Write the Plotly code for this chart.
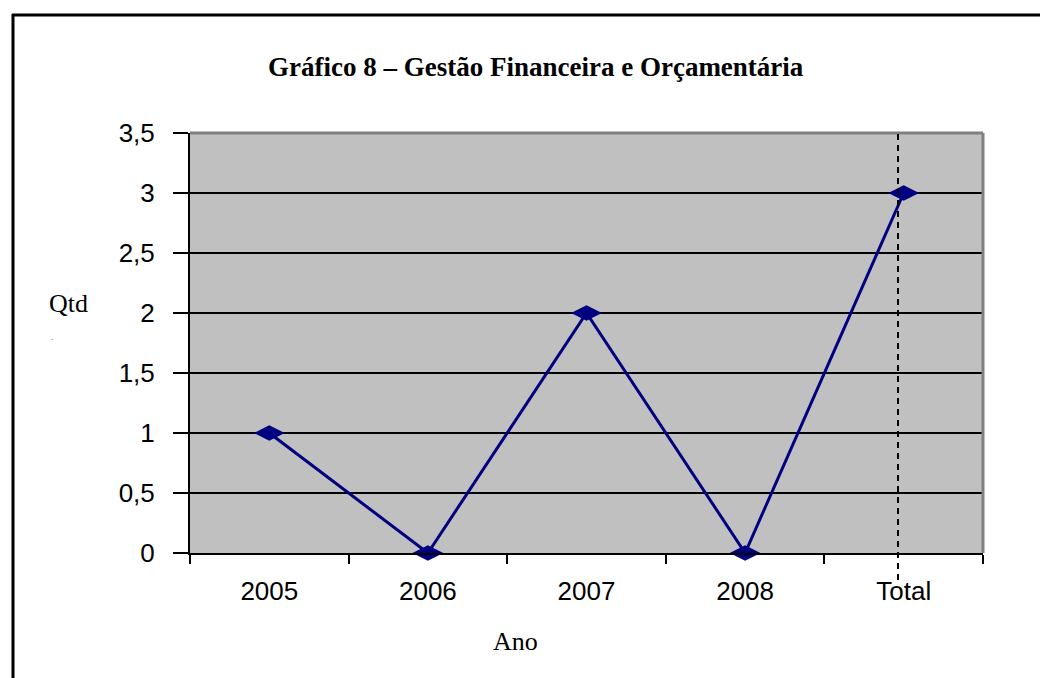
import plotly.graph_objects as go

categories = ["2005", "2006", "2007", "2008", "Total"]
values = [1, 0, 2, 0, 3]
y_ticks = [0, 0.5, 1, 1.5, 2, 2.5, 3, 3.5]

title_text = "Gráfico 8 – Gestão Financeira e Orçamentária"
y_label = "Qtd"
x_label = "Ano"

W, H = 1040, 678
L, R, T, B = 190, 57, 133, 125
pw, ph = W - L - R, H - T - B

def px(x):
    return (x - L) / pw

def py(y):
    return (H - B - y) / ph

fig = go.Figure()
fig.add_trace(go.Scatter(
    x=categories, y=values, mode="lines+markers",
    line=dict(color="#000080", width=3),
    marker=dict(symbol="diamond-wide", size=22, color="#000080"),
    showlegend=False, cliponaxis=False,
))

serif = "Liberation Serif, Times New Roman, serif"
sans = "Liberation Sans, Arial, sans-serif"

fig.update_layout(
    width=W, height=H,
    margin=dict(l=L, r=R, t=T, b=B),
    paper_bgcolor="white", plot_bgcolor="#C0C0C0",
    separators=",.",
    xaxis=dict(type="category", tickson="boundaries", ticks="outside", ticklen=9,
               tickwidth=2, tickcolor="black", showgrid=False, showline=True,
               linecolor="black", linewidth=2, range=[-0.5, 4.5],
               tickfont=dict(family=sans, size=26, color="black"),
               ticklabelstandoff=14),
    yaxis=dict(range=[0, 3.5], tickvals=y_ticks, ticks="outside", ticklen=15,
               tickwidth=2, tickcolor="black", showgrid=True, gridcolor="black",
               gridwidth=1.5, showline=True, linecolor="black", linewidth=2,
               zeroline=False, tickfont=dict(family=sans, size=26, color="black"),
               ticklabelstandoff=13),
)

shapes = []
shapes.append(dict(type="line", xref="paper", yref="paper", x0=0, x1=1, y0=1, y1=1,
                   line=dict(color="#808080", width=3)))
shapes.append(dict(type="line", xref="paper", yref="paper", x0=1, x1=1, y0=0, y1=1,
                   line=dict(color="#808080", width=3)))
shapes.append(dict(type="line", xref="paper", yref="paper", x0=px(898), x1=px(898),
                   y0=py(580), y1=1, line=dict(color="black", width=2, dash="6px,5px")))
# outer frame: top and left edges only (others run off the page)
shapes.append(dict(type="line", xref="paper", yref="paper", x0=px(12), x1=px(W),
                   y0=py(15), y1=py(15), line=dict(color="black", width=3)))
shapes.append(dict(type="line", xref="paper", yref="paper", x0=px(13), x1=px(13),
                   y0=py(14), y1=py(H), line=dict(color="black", width=3)))
fig.update_layout(shapes=shapes)

fig.add_annotation(text="<b>" + title_text + "</b>", xref="paper", yref="paper",
                   x=px(536), y=py(67), showarrow=False, xanchor="center", yanchor="middle",
                   font=dict(family=serif, size=27, color="black"))
fig.add_annotation(text=y_label, xref="paper", yref="paper", x=px(68), y=py(303),
                   showarrow=False, xanchor="center", yanchor="middle",
                   font=dict(family=serif, size=26, color="black"))
fig.add_annotation(text=".", xref="paper", yref="paper", x=px(52), y=py(336),
                   showarrow=False, xanchor="center", yanchor="middle",
                   font=dict(family=serif, size=10, color="#888888"))
fig.add_annotation(text=x_label, xref="paper", yref="paper", x=px(515), y=py(641),
                   showarrow=False, xanchor="center", yanchor="middle",
                   font=dict(family=serif, size=26, color="black"))

fig.write_html("out.html", config={"displayModeBar": False},
               post_script="document.body.style.margin='0';document.body.style.overflow='hidden';")
